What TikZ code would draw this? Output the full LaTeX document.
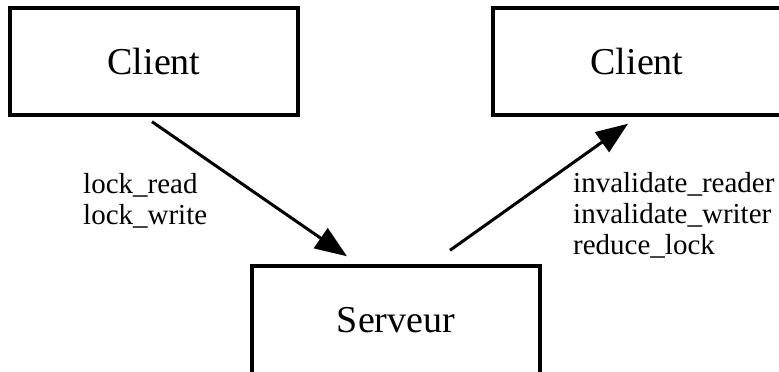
\documentclass[tikz,border=0pt]{standalone}
\usepackage{fontspec}
\setmainfont{Liberation Serif}
\usetikzlibrary{arrows.meta,calc}
\tikzset{
  boxnode/.style={draw=black, line width=3.4pt, minimum width=288pt, minimum height=107pt, inner sep=0pt, font=\fontsize{38}{44}\selectfont},
  msglabel/.style={align=left, inner sep=0pt, anchor=north west, font=\fontsize{29}{31}\selectfont},
  msgarrow/.style={line width=3pt, -{Triangle[length=32pt,width=24pt]}}
}
\begin{document}
\begin{tikzpicture}[x=1pt,y=-1pt]
\useasboundingbox (0,0) rectangle (779,372);
\clip (0,0) rectangle (779,372);
\fill[white] (0,0) rectangle (779,372);
\node[boxnode] (c1) at (154,61.5) {Client};
\node[boxnode] (c2) at (637,61.5) {Client};
\node[boxnode, minimum height=108pt] (s) at (396,320) {Serveur};
\coordinate (a1s) at ($(c1.south)+(-2,5)$);
\coordinate (a1e) at ($(s.north)+(-49,-8)$);
\coordinate (a2s) at ($(s.north)+(54,-14)$);
\coordinate (a2e) at ($(c2.south)+(-9,7)$);
\draw[msgarrow] (a1s) -- (a1e);
\draw[msgarrow] (a2s) -- (a2e);
\node[msglabel] (l1) at (83,173) {lock\_read\\lock\_write};
\node[msglabel] (l2) at (573,172) {invalidate\_reader\\invalidate\_writer\\reduce\_lock};
\end{tikzpicture}
\end{document}
